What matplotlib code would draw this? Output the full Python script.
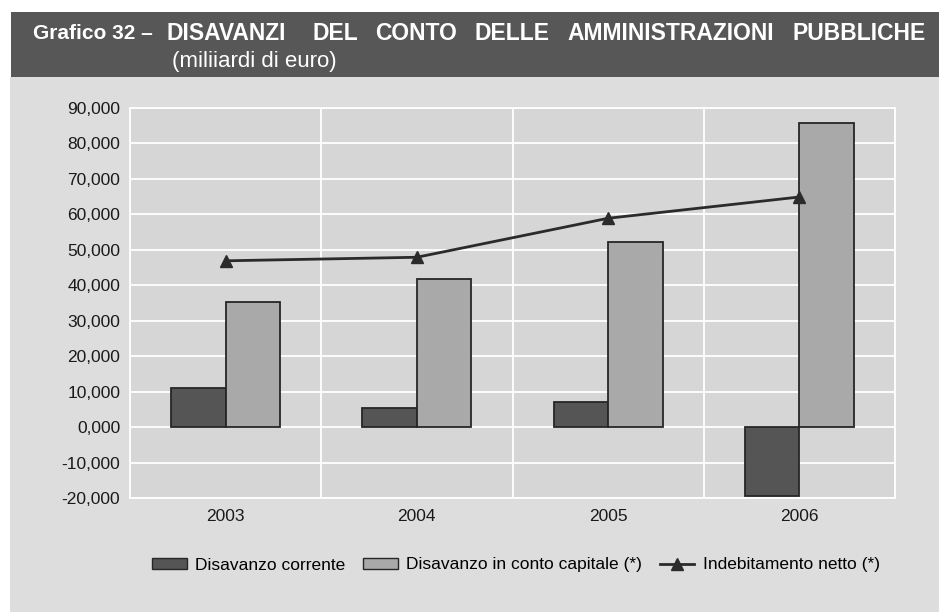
import matplotlib.pyplot as plt
from matplotlib.patches import Rectangle, Patch
from matplotlib.lines import Line2D
import numpy as np

# Data (miliardi di euro)
years = ['2003', '2004', '2005', '2006']
disavanzo_corrente = [11.0, 5.4, 7.0, -19.3]
disavanzo_capitale = [35.4, 41.7, 52.1, 85.8]
indebitamento_netto = [46.9, 47.9, 58.9, 64.9]
y_ticks = [-20, -10, 0, 10, 20, 30, 40, 50, 60, 70, 80, 90]
y_tick_labels = ['-20,000', '-10,000', '0,000', '10,000', '20,000', '30,000',
                 '40,000', '50,000', '60,000', '70,000', '80,000', '90,000']

W, H = 939, 612
plt.rcParams['font.family'] = ['Liberation Sans', 'DejaVu Sans']

fig = plt.figure(figsize=(W / 100, H / 100), dpi=100, facecolor='white')

# Background panel and dark title band (behind the axes)
fig.patches.append(Rectangle((10 / W, 0), 1, (H - 77) / H, transform=fig.transFigure,
                             facecolor='#dddddd', edgecolor='none', zorder=-5))
fig.patches.append(Rectangle((11 / W, (H - 77) / H), 1, 65 / H, transform=fig.transFigure,
                             facecolor='#575757', edgecolor='none', zorder=-5))

# Title words spread across the band
fig.text(33 / W, 1 - 33.5 / H, 'Grafico 32 –', color='white', fontsize=15,
         fontweight='bold', ha='left', va='center')
title_words = [('DISAVANZI', 167), ('DEL', 312), ('CONTO', 375), ('DELLE', 475),
               ('AMMINISTRAZIONI', 567), ('PUBBLICHE', 793)]
for word, xp in title_words:
    fig.text(xp / W, 1 - 33.5 / H, word, color='white', fontsize=16.5, fontweight='bold',
             ha='left', va='center')
fig.text(172 / W, 1 - 62 / H, '(miliiardi di euro)', color='white', fontsize=16,
         ha='left', va='center')

# Plot area
ax = fig.add_axes([130 / W, 114 / H, 765 / W, 390 / H])
ax.set_facecolor('#d6d6d6')
x = np.arange(len(years))
bw = 0.285
ax.bar(x - bw / 2, disavanzo_corrente, width=bw, color='#555555', edgecolor='#262626',
       linewidth=1.3, zorder=3)
ax.bar(x + bw / 2, disavanzo_capitale, width=bw, color='#a9a9a9', edgecolor='#262626',
       linewidth=1.3, zorder=3)
ax.plot(x, indebitamento_netto, color='#2b2b2b', linewidth=2, marker='^', markersize=9,
        zorder=4)

ax.set_xlim(-0.5, len(years) - 0.5)
ax.set_ylim(-20, 90)
ax.set_yticks(y_ticks)
ax.set_yticklabels(y_tick_labels, fontsize=12.5, color='#1a1a1a')
ax.set_xticks(x)
ax.set_xticklabels(years, fontsize=12.5, color='#1a1a1a')
ax.set_xticks(np.arange(-0.5, len(years), 1), minor=True)
ax.tick_params(axis='both', which='both', length=0)
ax.tick_params(axis='y', pad=7)
ax.tick_params(axis='x', pad=8)
ax.grid(True, axis='y', color='white', linewidth=1.3, zorder=1)
ax.grid(True, axis='x', which='minor', color='white', linewidth=1.3, zorder=1)
ax.grid(False, axis='x', which='major')
ax.set_axisbelow(True)
for s in ax.spines.values():
    s.set_color('white')
    s.set_linewidth(1.3)

# Legend
handles = [Patch(facecolor='#555555', edgecolor='#262626', label='Disavanzo corrente'),
           Patch(facecolor='#a9a9a9', edgecolor='#262626', label='Disavanzo in conto capitale (*)'),
           Line2D([], [], color='#2b2b2b', linewidth=2, marker='^', markersize=9,
                  label='Indebitamento netto (*)')]
fig.legend(handles=handles, loc='center', bbox_to_anchor=(516 / W, 1 - 565 / H), ncol=3,
           frameon=False, fontsize=12.5, handlelength=2.0, handleheight=0.6,
           columnspacing=1.0, handletextpad=0.5)

fig.savefig('out.png', dpi=100, facecolor=fig.get_facecolor())
